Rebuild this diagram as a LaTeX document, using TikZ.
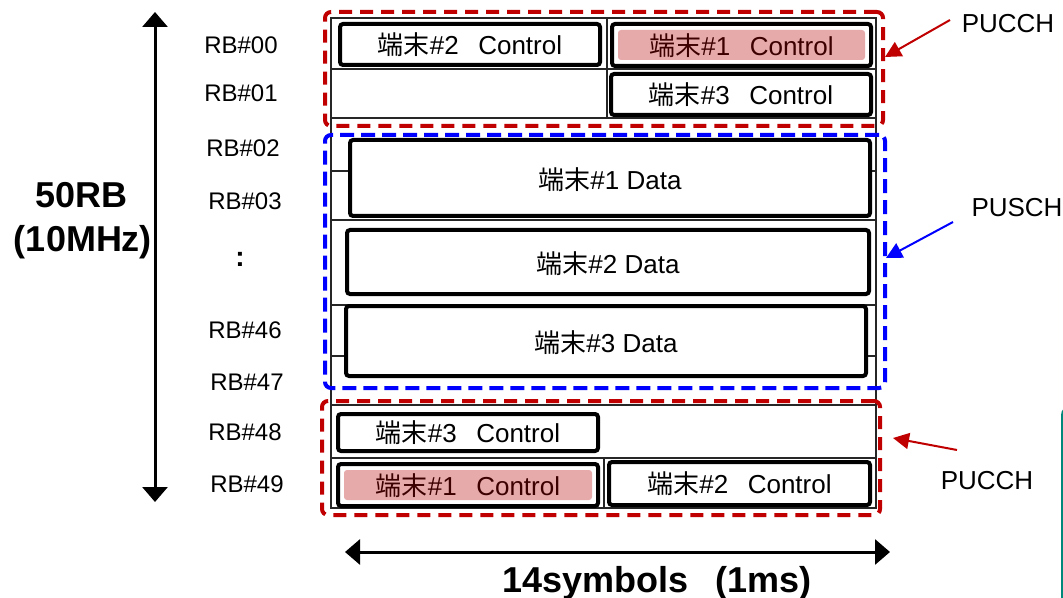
\documentclass[tikz,border=0pt]{standalone}
\usepackage{fontspec}
\setmainfont{Liberation Sans}
\newfontfamily\cjk{Noto Sans CJK JP}
\usetikzlibrary{arrows.meta}
\definecolor{pucchred}{RGB}{192,0,0}
\definecolor{puschblue}{RGB}{0,0,255}
\definecolor{pinkc}{RGB}{230,170,170}
\definecolor{pinktext}{RGB}{60,0,0}
\definecolor{tealc}{RGB}{0,137,123}
\newcommand{\tanmatsu}{{\cjk 端末}}
\begin{document}
\begin{tikzpicture}[x=0.5pt,y=-0.5pt,
  rblbl/.style={font=\fontsize{12pt}{14pt}\selectfont, anchor=base, inner sep=0pt},
  chlbl/.style={font=\fontsize{13pt}{15pt}\selectfont, anchor=base, inner sep=0pt},
  biglbl/.style={font=\fontsize{18pt}{21pt}\selectfont\bfseries, anchor=base, inner sep=0pt},
  gridline/.style={line width=0.75pt, black!85},
  box/.style={draw, line width=2pt, rounded corners=1.5pt, fill=white, inner sep=0pt,
    font=\fontsize{13pt}{15pt}\selectfont},
  ctrlbox/.style={box, text height=11pt, text depth=0.8pt},
  databox/.style={box, text height=12pt, text depth=0.8pt},
  pinkbox/.style={ctrlbox, text=pinktext, path picture={\fill[pinkc]
    ([xshift=3pt,yshift=-3pt]path picture bounding box.north west) rectangle
    ([xshift=-3pt,yshift=3pt]path picture bounding box.south east);}},
  reddash/.style={draw=pucchred, line width=2pt, dash pattern=on 6.5pt off 4pt,
    rounded corners=3pt, inner sep=0pt},
  bluedash/.style={draw=puschblue, line width=2pt, dash pattern=on 7pt off 3.5pt,
    rounded corners=3pt, inner sep=0pt},
  bigarrow/.style={line width=1.5pt, {Triangle[length=7.5pt,width=12.5pt]}-{Triangle[length=7.5pt,width=12.5pt]}},
  redarr/.style={pucchred, line width=1pt, -{Triangle[length=8pt,width=8pt]}},
  bluearr/.style={puschblue, line width=1pt, -{Triangle[length=8pt,width=8pt]}}
]
\useasboundingbox (0,0) rectangle (1063,598);

% frequency axis
\coordinate (vtop) at (155,12);
\coordinate (vbot) at (155,502);
\draw[bigarrow] (vtop) -- (vbot);
\node[biglbl] (bw1) at (81.5,208) {50RB};
\node[biglbl] (bw2) at (83,252) {(10MHz)};

% RB labels
\node[rblbl] (rb00) at (241,54) {RB\#00};
\node[rblbl] (rb01) at (241,102) {RB\#01};
\node[rblbl] (rb02) at (243,157) {RB\#02};
\node[rblbl] (rb03) at (245,210) {RB\#03};
\node[rblbl, font=\fontsize{14pt}{16pt}\selectfont\bfseries] (rbdots) at (240,267) {:};
\node[rblbl] (rb46) at (245,338) {RB\#46};
\node[rblbl] (rb47) at (247,390) {RB\#47};
\node[rblbl] (rb48) at (245,440) {RB\#48};
\node[rblbl] (rb49) at (247,492) {RB\#49};

% grid
\draw[gridline] (331,18) rectangle (876,508);
\foreach \yy in {69,118,171,220,305,356,405,458}
  \draw[gridline] (331,\yy) -- (876,\yy);
\draw[gridline] (607,18) -- (607,118);
\draw[gridline] (604,458) -- (604,508);

% control boxes (top)
\node[ctrlbox, minimum width=130pt, minimum height=20.5pt] (c2t) at (470,44.5)
  {\tanmatsu\#2\hspace{0.75em}Control};
\node[pinkbox, minimum width=129.5pt, minimum height=21pt] (c1t) at (741.5,45)
  {\tanmatsu\#1\hspace{0.75em}Control};
\node[ctrlbox, minimum width=130pt, minimum height=20.5pt] (c3t) at (741,94.5)
  {\tanmatsu\#3\hspace{0.75em}Control};

% data boxes
\node[databox, minimum width=260pt, minimum height=38pt] (d1) at (610,178)
  {\tanmatsu\#1 Data};
\node[databox, minimum width=261pt, minimum height=32pt] (d2) at (608,262)
  {\tanmatsu\#2 Data};
\node[databox, minimum width=260pt, minimum height=35pt] (d3) at (606,341)
  {\tanmatsu\#3 Data};

% control boxes (bottom)
\node[ctrlbox, minimum width=130pt, minimum height=18.5pt] (c3b) at (468,432.5)
  {\tanmatsu\#3\hspace{0.75em}Control};
\node[pinkbox, minimum width=130pt, minimum height=21pt] (c1b) at (468,485)
  {\tanmatsu\#1\hspace{0.75em}Control};
\node[ctrlbox, minimum width=130.5pt, minimum height=21.5pt] (c2b) at (739.5,483.5)
  {\tanmatsu\#2\hspace{0.75em}Control};

% channel regions
\node[reddash, minimum width=279pt, minimum height=57pt] (pucchT) at (604,69) {};
\node[bluedash, minimum width=280pt, minimum height=126.5pt] (pusch) at (605,261.5) {};
\node[reddash, minimum width=279pt, minimum height=57pt] (pucchB) at (601,458) {};

% channel labels and arrows
\node[chlbl] (lT) at (1008,33) {PUCCH};
\node[chlbl] (lS) at (1017,217) {PUSCH};
\node[chlbl] (lB) at (987,489) {PUCCH};
\coordinate (sT) at (950,20);
\coordinate (tT) at (885,57);
\coordinate (sS) at (953,222);
\coordinate (tS) at (886,258);
\coordinate (sB) at (957,450);
\coordinate (tB) at (893,438);
\draw[redarr] (sT) -- (tT);
\draw[bluearr] (sS) -- (tS);
\draw[redarr] (sB) -- (tB);

% time axis
\coordinate (hl) at (345,552);
\coordinate (hr) at (890,552);
\draw[bigarrow] (hl) -- (hr);
\node[biglbl] (tlbl) at (657,592) {14symbols\hspace{0.75em}(1ms)};

% partial box at right edge
\begin{scope}
  \clip (0,0) rectangle (1063,598);
  \draw[tealc, line width=1pt, rounded corners=4pt] (1062,407) rectangle (1200,700);
\end{scope}
\end{tikzpicture}
\end{document}
